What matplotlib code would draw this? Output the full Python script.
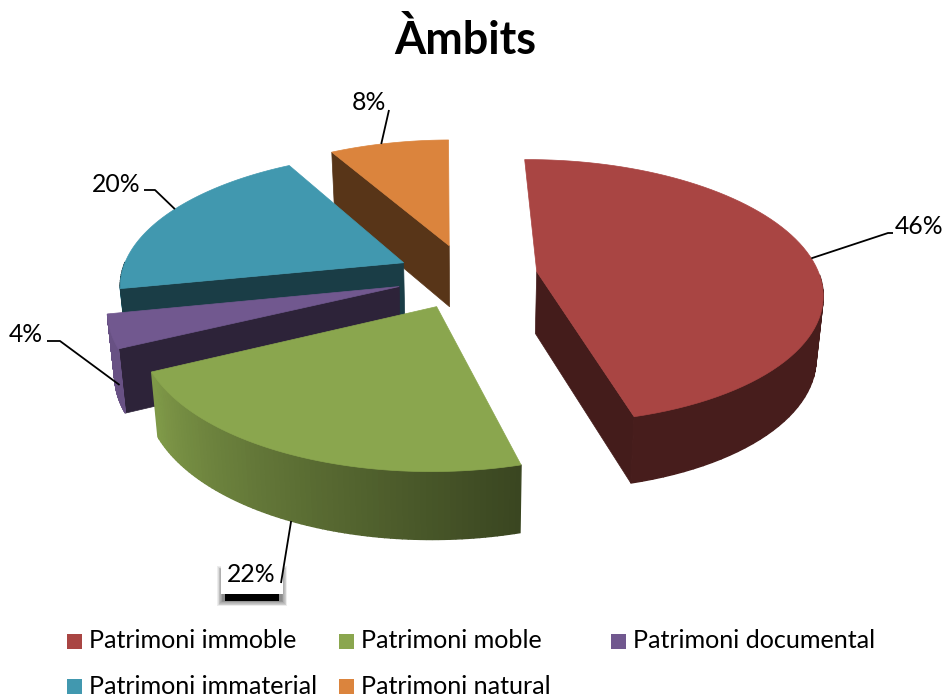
import numpy as np
import matplotlib
matplotlib.use("Agg")
import matplotlib.pyplot as plt
from matplotlib.patches import Rectangle, Polygon
from matplotlib.colors import to_rgb

plt.rcParams['font.family'] = ['Lato', 'DejaVu Sans']

title = "Àmbits"
categories = ["Patrimoni immoble", "Patrimoni moble", "Patrimoni documental",
              "Patrimoni immaterial", "Patrimoni natural"]
values = [46, 22, 4, 20, 8]
colors = ["#A94543", "#8AA64E", "#71588F", "#4198AF", "#DB843D"]

# projection settings
CX, CY, R, B, K, DEPTH, EXPLODE = 467, 276, 283, 130, 0.15, 62, 0.25
START = -0.7

W, H = 942, 697
fig = plt.figure(figsize=(W / 100, H / 100), dpi=100)
ax = fig.add_axes([0, 0, 1, 1])
ax.set_xlim(0, W)
ax.set_ylim(H, 0)
ax.axis("off")


def project(u, v, z=0.0):
    w = 1 / (1 - K * v)
    x = R * u * w
    y = B * v * w
    if z:
        x = x * 0.98
    return CX + x, CY + y + z * DEPTH * w ** 0.45


def shade(c, f):
    return tuple(np.array(to_rgb(c)) * f)


vals = np.array(values, float)
edges = START + np.concatenate([[0], np.cumsum(vals / vals.sum() * 360)])
slices = []
for i in range(len(vals)):
    a0, a1 = edges[i], edges[i + 1]
    mid = np.radians((a0 + a1) / 2)
    off = (EXPLODE * np.sin(mid), -EXPLODE * np.cos(mid))
    th = np.radians(np.linspace(a0, a1, 80))
    u = off[0] + np.sin(th)
    v = off[1] - np.cos(th)
    slices.append(dict(i=i, a0=a0, a1=a1, mid=mid, off=off, th=th, u=u, v=v))

for s in [slices[j] for j in (4, 3, 2, 1, 0)]:
    c = colors[s["i"]]
    off = s["off"]
    ax_, ay_ = project(*off)
    bx_, by_ = project(*off, 1)
    tx, ty = project(s["u"], s["v"])
    dx, dy = project(s["u"], s["v"], 1)
    # radial walls, only when they face the viewer
    for k, ang, turn in ((0, s["a0"], -90), (-1, s["a1"], 90)):
        if -np.cos(np.radians(ang + turn)) > 0.05:
            ax.add_patch(Polygon([(ax_, ay_), (tx[k], ty[k]), (dx[k], dy[k]), (bx_, by_)],
                                 closed=True, fc=shade(c, 0.40), ec=shade(c, 0.40),
                                 lw=0.5, zorder=2))
    # outer wall, shaded along the arc, front half only
    deg = np.degrees(s["th"]) % 360
    for k in range(len(tx) - 1):
        if not 90 <= deg[k] <= 270:
            continue
        f = float(np.clip(0.42 + (deg[k] - 165) / 77 * 0.5, 0.42, 0.92))
        if deg[k] > 259:
            f = 0.40
        ax.add_patch(Polygon([(tx[k], ty[k]), (tx[k + 1], ty[k + 1]),
                              (dx[k + 1], dy[k + 1]), (dx[k], dy[k])],
                             closed=True, fc=shade(c, f), ec=shade(c, f),
                             lw=1.0, zorder=2))
    # top face
    pts = [(ax_, ay_)] + list(zip(tx, ty))
    ax.add_patch(Polygon(pts, closed=True, fc=c, ec=c, lw=0.5, zorder=2))

# 22% label box and its soft shadow
for grow in np.arange(6, 0, -0.75):
    ax.add_patch(Rectangle((223 - grow, 572 - grow), 58 + 2 * grow, 28 + 2 * grow,
                           fc="black", ec="none", alpha=0.07, zorder=4))
ax.add_patch(Rectangle((225, 580), 54, 21, fc="black", ec="none", zorder=4))
ax.add_patch(Rectangle((221, 558), 62, 36, fc="white", ec="none", zorder=5))

# leader lines and data labels
leader_mid = [(888, 233), (281, 583), (60, 341), (155, 190), (389, 110)]
leader_end = [(893, 233), (281, 583), (47, 341), (144, 190), (389, 110)]
label_pos = [(919, 227), (251, 575), (26, 334), (116, 184), (369, 103)]
anchor_deg = [84, 205, 249, 297, 343]
anchor_z = [0, 1, 0.75, 0, 0]
for s, mid_pt, end_pt, pos, deg, z in zip(slices, leader_mid, leader_end, label_pos,
                                          anchor_deg, anchor_z):
    th = np.radians(deg)
    p0 = project(s["off"][0] + np.sin(th), s["off"][1] - np.cos(th), z)
    xs, ys = zip(p0, mid_pt, end_pt)
    ax.plot(xs, ys, color="black", lw=1.3, zorder=6, solid_capstyle="butt")
    ax.text(pos[0], pos[1], f"{values[s['i']]}%", ha="center", va="center",
            fontsize=17.8, color="black", zorder=7)

ax.text(465, 40, title, ha="center", va="center", fontsize=32.4, fontweight="bold",
        color="black")

# legend
legend_pos = [(67, 641), (339, 641), (611, 641), (67, 686), (339, 686)]
for name, c, (x, y) in zip(categories, colors, legend_pos):
    ax.add_patch(Rectangle((x, y - 7.5), 15, 15, fc=c, ec="none"))
    ax.text(x + 22, y, name, ha="left", va="center", fontsize=18.1, color="black")

fig.savefig("out.png", dpi=100)
